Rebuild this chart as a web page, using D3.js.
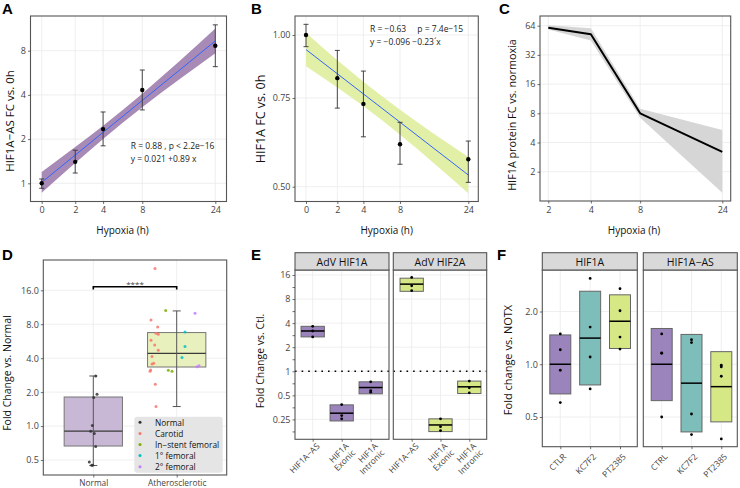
<!DOCTYPE html>
<html>
<head>
<meta charset="utf-8">
<script src="https://cdn.jsdelivr.net/npm/d3@7"></script>
<style>
  body { margin: 0; background: #fff; }
  svg { font-family: "Open Sans", sans-serif; }
</style>
</head>
<body>
<svg id="fig" width="740" height="488"></svg>
<script>
// ---------- data ----------
const hours = [0, 2, 4, 8, 24];

// A: HIF1A-AS fold change vs 0h
const asMean   = [1.0, 1.40, 2.34, 4.32, 8.65];
const asErrLo  = [0.925, 1.175, 1.80, 3.16, 6.23];
const asErrHi  = [1.07, 1.68, 3.06, 5.91, 12.0];
const asBandLo = [0.862, 1.375, 2.004, 3.29, 7.68];
const asBandHi = [1.194, 1.764, 2.467, 4.08, 11.32];
const asFit = [0.021, 0.89];           // intercept, slope

// B: HIF1A fold change vs 0h
const hifMean   = [1.0, 0.821, 0.730, 0.607, 0.567];
const hifErrLo  = [0.948, 0.716, 0.628, 0.554, 0.510];
const hifErrHi  = [1.05, 0.932, 0.848, 0.671, 0.616];
const hifBandLo = [0.867, 0.787, 0.723, 0.634, 0.485];
const hifBandHi = [1.010, 0.891, 0.808, 0.711, 0.573];
const hifFit = [-0.096, -0.23];

// C: HIF1A protein vs normoxia
const protHours = [2, 4, 8, 24];
const protMean = [61, 52.2, 8.0, 3.2];
const protLo   = [58.4, 45.1, 7.2, 1.21];
const protHi   = [64.8, 60.2, 8.9, 5.38];

// D: fold change vs normal
const dGroups = ["Normal", "Atherosclerotic"];
const dTypes = ["Normal", "Carotid", "In\u2212stent femoral", "1\u00b0 femoral", "2\u00b0 femoral"];
const dBox = { // lo whisker, q1, median, q3, hi whisker
  "Normal":          [0.447, 0.665, 0.903, 1.81, 2.78],
  "Atherosclerotic": [1.49, 3.34, 4.42, 6.75, 10.5]
};
const dPointType = [0,0,0,0,0,0,0,0,0,0, 1,1,1,1,1,1,1,1,1,1,1,1,1,1,1, 2,2,2, 3,3,3, 4,4,4];
const dPointValue = [2.78, 1.91, 1.79, 1.01, 0.90, 0.86, 0.66, 0.48, 0.45, 0.45,
  25.0, 8.73, 7.57, 6.66, 6.52, 5.77, 5.24, 4.70, 4.13, 3.60, 3.55, 3.14, 3.06, 2.35, 1.49,
  10.6, 3.12, 3.06,
  6.83, 5.07, 4.05,
  10.0, 3.35, 3.42];
// horizontal jitter of each point, in pixels from the group centre
const dJitter = [2.4, 3.7, 0.4, -1, -2.6, 1, 2.4, -4, -1.6, -0.6,
  -21.7, -25.7, -19, -20.7, -18.4, -25.7, -22, -18.4, -24.7, -23, -24.7, -26, -26.7, -21.4, -20.7,
  -11, -8.4, -4.7,
  8.3, 8.3, 5.3,
  18.3, 20.3, 22.3];

// E: AdV over-expression
const eFacets = ["AdV HIF1A", "AdV HIF2A"];
const eGenes = ["HIF1A\u2212AS", "HIF1A\nExonic", "HIF1A\nIntronic"];
const eBox = [ // [lo, mid, hi] per gene
  [[2.69, 3.19, 3.65], [0.239, 0.299, 0.380], [0.522, 0.626, 0.738]],
  [[10.0, 12.3, 14.6], [0.176, 0.213, 0.254], [0.527, 0.639, 0.754]]
];
const ePoints = [
  [[3.65, 3.19, 2.69], [0.383, 0.279, 0.254], [0.738, 0.574, 0.548]],
  [[14.9, 11.7, 10.2], [0.254, 0.203, 0.181], [0.754, 0.621, 0.537]]
];

// F: inhibitors
const fFacets = ["HIF1A", "HIF1A\u2212AS"];
const fTreat = [["CTLR", "KC7F2", "PT2385"], ["CTRL", "KC7F2", "PT2385"]];
const fBox = [
  [[0.677, 1.0, 1.47], [0.762, 1.41, 2.61], [1.23, 1.76, 2.49]],
  [[0.620, 1.0, 1.60], [0.411, 0.78, 1.48], [0.469, 0.745, 1.18]]
];
const fPoints = [
  [[1.49, 1.21, 0.924, 0.604], [3.09, 1.63, 1.10, 0.723], [2.70, 2.02, 1.43, 1.22]],
  [[1.49, 1.16, 1.155, 0.50], [1.38, 1.33, 0.52, 0.397], [0.987, 0.965, 0.854, 0.375]]
];

// ---------- styles ----------
const GRID = "#ebebeb", BORDER = "#555", TICK = "#333", TXT = "#444";
const PURPLE = "#9a84bb", TEAL = "#7dbdba", YELLOW = "#d6e886";
const typeColor = ["#333333", "#F8766D", "#7CAE00", "#00BFC4", "#C77CFF"];
const TICKSIZE = 9;

const svg = d3.select("#fig");
const plog4 = h => Math.asinh(h / 4) / Math.LN2;   // pseudo-log x, sigma 2
const plog2 = h => Math.asinh(h / 2) / Math.LN2;   // pseudo-log x, sigma 1
const fmt1 = d3.format(".1f");

// ---------- helpers ----------
function letter(t, x, y) {
  svg.append("text").attr("x", x).attr("y", y).text(t)
    .attr("font-family", "Liberation Sans, Arial, sans-serif")
    .attr("font-weight", "bold").attr("font-size", 15).attr("fill", "#000");
}
function gridH(g, y, vals, P) {
  g.append("g").selectAll("line").data(vals).join("line")
    .attr("x1", P.x0).attr("x2", P.x1).attr("y1", d => y(d)).attr("y2", d => y(d))
    .attr("stroke", GRID).attr("stroke-width", 0.8);
}
function gridV(g, xs, P) {
  g.append("g").selectAll("line").data(xs).join("line")
    .attr("x1", d => d).attr("x2", d => d).attr("y1", P.y0).attr("y2", P.y1)
    .attr("stroke", GRID).attr("stroke-width", 0.8);
}
function border(g, P) {
  g.append("rect").attr("x", P.x0).attr("y", P.y0)
    .attr("width", P.x1 - P.x0).attr("height", P.y1 - P.y0)
    .attr("fill", "none").attr("stroke", BORDER).attr("stroke-width", 1.1);
}
function styleAxis(ax, size) {
  ax.select(".domain").remove();
  ax.selectAll(".tick line").attr("stroke", TICK).attr("stroke-width", 0.7);
  ax.selectAll(".tick text").attr("fill", TXT).attr("font-size", size || TICKSIZE)
    .attr("font-family", "Open Sans, sans-serif");
}
function leftAxis(g, y, vals, f, P) {
  const ax = g.append("g").attr("transform", `translate(${P.x0},0)`)
    .call(d3.axisLeft(y).tickValues(vals).tickFormat(f).tickSize(2.5).tickPadding(2));
  styleAxis(ax);
  return ax;
}
function bottomAxis(g, x, vals, f, P, size) {
  const ax = g.append("g").attr("transform", `translate(0,${P.y1})`)
    .call(d3.axisBottom(x).tickValues(vals).tickFormat(f).tickSize(2.5).tickPadding(3));
  styleAxis(ax, size);
  return ax;
}
function yTitle(t, x, y, size) {
  svg.append("text").attr("transform", `translate(${x},${y}) rotate(-90)`)
    .attr("text-anchor", "middle").attr("dominant-baseline", "central")
    .attr("font-size", size).attr("fill", "#111").text(t);
}
function xTitle(t, x, y, size) {
  svg.append("text").attr("x", x).attr("y", y).attr("text-anchor", "middle")
    .attr("font-size", size).attr("fill", "#111").text(t);
}
function errorBars(g, xs, lo, hi, y, w) {
  const e = g.append("g").attr("stroke", "#333").attr("stroke-width", 0.9);
  xs.forEach((xv, i) => {
    e.append("line").attr("x1", xv).attr("x2", xv).attr("y1", y(lo[i])).attr("y2", y(hi[i]));
    e.append("line").attr("x1", xv - w / 2).attr("x2", xv + w / 2).attr("y1", y(lo[i])).attr("y2", y(lo[i]));
    e.append("line").attr("x1", xv - w / 2).attr("x2", xv + w / 2).attr("y1", y(hi[i])).attr("y2", y(hi[i]));
  });
}
function note(g, t, x, y) {
  g.append("text").attr("x", x).attr("y", y).attr("font-size", 8.5).attr("fill", "#222").text(t);
}

// ---------- A ----------
{
  const P = { x0: 30.5, x1: 226.5, y0: 16, y1: 201.5 };
  const x = d3.scaleLinear().domain([plog4(0), plog4(24)]).range([41.7, 215.3]);
  const y = d3.scaleLog().base(2).domain([1, 8]).range([183.3, 50.7]);
  const g = svg.append("g");
  gridV(g, hours.map(h => x(plog4(h))), P);
  gridH(g, y, [1, 2, 4, 8], P);
  const idx = d3.range(hours.length);
  g.append("path").datum(idx)
    .attr("d", d3.area().curve(d3.curveMonotoneX)
      .x(i => x(plog4(hours[i]))).y0(i => y(asBandLo[i])).y1(i => y(asBandHi[i])))
    .attr("fill", "#a78ab5");
  g.append("path").datum([0, 24])
    .attr("d", d3.line().x(h => x(plog4(h))).y(h => y(Math.pow(2, asFit[0] + asFit[1] * plog4(h)))))
    .attr("stroke", "#3366FF").attr("stroke-width", 1).attr("fill", "none");
  errorBars(g, hours.map(h => x(plog4(h))), asErrLo, asErrHi, y, 5);
  g.append("g").selectAll("circle").data(idx).join("circle")
    .attr("cx", i => x(plog4(hours[i]))).attr("cy", i => y(asMean[i])).attr("r", 2.2).attr("fill", "#000");
  note(g, "R = 0.88 , p < 2.2e\u221216", 130.7, 148.7);
  note(g, "y = 0.021 +0.89 x", 130.7, 161.7);
  border(g, P);
  leftAxis(g, y, [1, 2, 4, 8], d3.format("d"), P);
  bottomAxis(g, x, hours.map(plog4), (d, i) => hours[i], P);
  yTitle("HIF1A\u2212AS FC vs. 0h", 9, 121, 11.5);
  xTitle("Hypoxia (h)", 122.5, 233.5, 10);
  letter("A", 2, 14);
}

// ---------- B ----------
{
  const P = { x0: 295, x1: 478.3, y0: 16, y1: 201.5 };
  const x = d3.scaleLinear().domain([plog4(0), plog4(24)]).range([306, 468.3]);
  const y = d3.scaleLog().base(2).domain([0.5, 1]).range([186.7, 35]);
  const g = svg.append("g");
  gridV(g, hours.map(h => x(plog4(h))), P);
  gridH(g, y, [0.5, 0.75, 1], P);
  const idx = d3.range(hours.length);
  g.append("path").datum(idx)
    .attr("d", d3.area().curve(d3.curveMonotoneX)
      .x(i => x(plog4(hours[i]))).y0(i => y(hifBandLo[i])).y1(i => y(hifBandHi[i])))
    .attr("fill", "#e2efa6");
  g.append("path").datum([0, 24])
    .attr("d", d3.line().x(h => x(plog4(h))).y(h => y(Math.pow(2, hifFit[0] + hifFit[1] * plog4(h)))))
    .attr("stroke", "#3366FF").attr("stroke-width", 1).attr("fill", "none");
  errorBars(g, hours.map(h => x(plog4(h))), hifErrLo, hifErrHi, y, 5);
  g.append("g").selectAll("circle").data(idx).join("circle")
    .attr("cx", i => x(plog4(hours[i]))).attr("cy", i => y(hifMean[i])).attr("r", 2.2).attr("fill", "#000");
  note(g, "R = \u22120.63", 370, 32.2);
  note(g, "p = 7.4e\u221215", 417.3, 32.2);
  note(g, "y = \u22120.096 \u22120.23\u00b4x", 370, 44.6);
  border(g, P);
  leftAxis(g, y, [0.5, 0.75, 1], d3.format(".2f"), P);
  bottomAxis(g, x, hours.map(plog4), (d, i) => hours[i], P);
  yTitle("HIF1A FC vs. 0h", 260, 119, 12.5);
  xTitle("Hypoxia (h)", 386.7, 233.5, 10);
  letter("B", 251, 14);
}

// ---------- C ----------
{
  const P = { x0: 540, x1: 730.7, y0: 16, y1: 201 };
  const x = d3.scaleLinear().domain([plog2(2), plog2(24)]).range([548.3, 722.3]);
  const y = d3.scaleLog().base(2).domain([2, 64]).range([171.7, 25.7]);
  const g = svg.append("g");
  gridV(g, protHours.map(h => x(plog2(h))), P);
  gridH(g, y, [2, 4, 8, 16, 32, 64], P);
  const idx = d3.range(protHours.length);
  g.append("path").datum(idx)
    .attr("d", d3.area().x(i => x(plog2(protHours[i]))).y0(i => y(protLo[i])).y1(i => y(protHi[i])))
    .attr("fill", "#d6d6d6");
  g.append("path").datum(idx)
    .attr("d", d3.line().x(i => x(plog2(protHours[i]))).y(i => y(protMean[i])))
    .attr("stroke", "#000").attr("stroke-width", 2).attr("fill", "none").attr("stroke-linejoin", "round");
  border(g, P);
  leftAxis(g, y, [2, 4, 8, 16, 32, 64], d3.format("d"), P);
  bottomAxis(g, x, protHours.map(plog2), (d, i) => protHours[i], P);
  yTitle("HIF1A protein FC vs. normoxia", 511, 115, 10.8);
  xTitle("Hypoxia (h)", 634, 233.5, 10);
  letter("C", 499, 14);
}

// ---------- D ----------
{
  const P = { x0: 43.3, x1: 226.7, y0: 260, y1: 475 };
  const x = d3.scalePoint().domain(dGroups).range([93.3, 176.7]);
  const y = d3.scaleLog().base(2).domain([0.5, 16]).range([460, 290.3]);
  const bw = 58.3;
  const g = svg.append("g");
  gridV(g, dGroups.map(d => x(d)), P);
  gridH(g, y, [0.5, 1, 2, 4, 8, 16], P);
  const fills = { "Normal": "#c8b7d5", "Atherosclerotic": "#e8f1bd" };
  dGroups.forEach(grp => {
    const s = dBox[grp], cx = x(grp);
    g.append("rect").attr("x", cx - bw / 2).attr("width", bw)
      .attr("y", y(s[3])).attr("height", y(s[1]) - y(s[3]))
      .attr("fill", fills[grp]).attr("stroke", "#777").attr("stroke-width", 1);
    g.append("line").attr("x1", cx - bw / 2).attr("x2", cx + bw / 2).attr("y1", y(s[2])).attr("y2", y(s[2]))
      .attr("stroke", "#3a3a3a").attr("stroke-width", 1.3);
    g.append("line").attr("x1", cx).attr("x2", cx).attr("y1", y(s[0])).attr("y2", y(s[4]))
      .attr("stroke", "#555").attr("stroke-width", 1);
    [s[0], s[4]].forEach(v => g.append("line").attr("x1", cx - 4).attr("x2", cx + 4)
      .attr("y1", y(v)).attr("y2", y(v)).attr("stroke", "#555").attr("stroke-width", 1));
  });
  g.append("g").selectAll("circle").data(d3.range(dPointValue.length)).join("circle")
    .attr("cx", i => x(dPointType[i] === 0 ? "Normal" : "Atherosclerotic") + dJitter[i])
    .attr("cy", i => y(dPointValue[i])).attr("r", 1.5)
    .attr("fill", i => typeColor[dPointType[i]]).attr("fill-opacity", 0.85);
  // significance bracket
  g.append("path")
    .attr("d", `M${x("Normal")},289.5V286.7H${x("Atherosclerotic")}V289.5`)
    .attr("fill", "none").attr("stroke", "#000").attr("stroke-width", 1.6);
  g.append("text").attr("x", (x("Normal") + x("Atherosclerotic")) / 2).attr("y", 287)
    .attr("text-anchor", "middle").attr("font-size", 8).attr("fill", "#444").text("****");
  // legend
  const lg = g.append("g");
  lg.append("rect").attr("x", 134.3).attr("y", 416.7).attr("width", 88.4).attr("height", 56)
    .attr("rx", 3).attr("fill", "#e5e5e5");
  dTypes.forEach((t, i) => {
    const cy = 422.3 + i * 11.1;
    lg.append("circle").attr("cx", 140).attr("cy", cy).attr("r", 1.5).attr("fill", typeColor[i]);
    lg.append("text").attr("x", 155).attr("y", cy).attr("dominant-baseline", "central")
      .attr("font-size", 8.3).attr("fill", "#111").text(t);
  });
  border(g, P);
  leftAxis(g, y, [0.5, 1, 2, 4, 8, 16], fmt1, P);
  bottomAxis(g, x, dGroups, d => d, P, 8.3);
  yTitle("Fold Change vs. Normal", 7, 373, 10.5);
  letter("D", 2, 260);
}

// ---------- E ----------
{
  const panels = [
    { x0: 295, x1: 389, y0: 270, y1: 439.3, r: [312.7, 370.7] },
    { x0: 393.3, x1: 486.7, y0: 270, y1: 439.3, r: [411.7, 469.3] }
  ];
  const y = d3.scaleLog().base(2).domain([0.25, 16]).range([419.4, 275]);
  const major = [0.25, 0.5, 1, 2, 4, 8, 16];
  const minor = major.map(v => v / Math.SQRT2).concat([16 * Math.SQRT2]).filter(v => v > 0.15 && v < 18);
  const fill = [PURPLE, YELLOW];
  const bw = 23.3;
  panels.forEach((P, f) => {
    const g = svg.append("g");
    const x = d3.scalePoint().domain(eGenes).range(P.r);
    gridV(g, eGenes.map(d => x(d)), P);
    gridH(g, y, major, P);
    g.append("line").attr("x1", P.x0).attr("x2", P.x1).attr("y1", y(1)).attr("y2", y(1))
      .attr("stroke", "#000").attr("stroke-width", 1.6).attr("stroke-dasharray", "1.6 5");
    eGenes.forEach((gene, k) => {
      const s = eBox[f][k], cx = x(gene);
      g.append("rect").attr("x", cx - bw / 2).attr("width", bw)
        .attr("y", y(s[2])).attr("height", y(s[0]) - y(s[2]))
        .attr("fill", fill[f]).attr("stroke", "#666").attr("stroke-width", 1);
      g.append("line").attr("x1", cx - bw / 2).attr("x2", cx + bw / 2).attr("y1", y(s[1])).attr("y2", y(s[1]))
        .attr("stroke", "#000").attr("stroke-width", 1.5);
      g.append("g").selectAll("circle").data(ePoints[f][k]).join("circle")
        .attr("cx", cx).attr("cy", d => y(d)).attr("r", 1.4).attr("fill", "#000");
    });
    border(g, P);
    // strip
    g.append("rect").attr("x", P.x0).attr("y", 252.7).attr("width", P.x1 - P.x0).attr("height", P.y0 - 252.7)
      .attr("fill", "#d9d9d9").attr("stroke", BORDER).attr("stroke-width", 1.1);
    g.append("text").attr("x", (P.x0 + P.x1) / 2).attr("y", 261.6).attr("dominant-baseline", "central")
      .attr("text-anchor", "middle").attr("font-size", 10.5).attr("fill", "#111").text(eFacets[f]);
    // x tick marks + rotated labels
    const ax = g.append("g").attr("transform", `translate(0,${P.y1})`)
      .call(d3.axisBottom(x).tickSize(2.5).tickFormat(""));
    styleAxis(ax);
    eGenes.forEach(gene => {
      const t = g.append("text").attr("text-anchor", "end").attr("font-size", 8.5).attr("fill", TXT)
        .attr("transform", `translate(${x(gene) + 3},${P.y1 + 3}) rotate(-45)`);
      gene.split("\n").forEach((ln, i) => t.append("tspan").attr("x", 0).attr("dy", i === 0 ? "0.75em" : "1.1em").text(ln));
    });
    if (f === 0) {
      const mi = g.append("g").attr("transform", `translate(${P.x0},0)`)
        .call(d3.axisLeft(y).tickValues(minor).tickFormat("").tickSize(2.5));
      styleAxis(mi);
      leftAxis(g, y, major, d3.format("~g"), P);
    }
  });
  yTitle("Fold Change vs. Ctl.", 259.7, 361, 10.5);
  letter("E", 251, 260);
}

// ---------- F ----------
{
  const panels = [
    { x0: 542.3, x1: 637.3, y0: 270, y1: 446.7, r: [560.3, 620] },
    { x0: 643.3, x1: 737.3, y0: 270, y1: 446.7, r: [661.7, 721.3] }
  ];
  const y = d3.scaleLog().base(2).domain([0.5, 2]).range([417, 311.5]);
  const fill = [PURPLE, TEAL, YELLOW];
  const bw = 21;
  panels.forEach((P, f) => {
    const g = svg.append("g");
    const x = d3.scalePoint().domain(d3.range(3)).range(P.r);
    gridV(g, d3.range(3).map(d => x(d)), P);
    gridH(g, y, [0.5, 1, 2], P);
    d3.range(3).forEach(k => {
      const s = fBox[f][k], cx = x(k);
      g.append("rect").attr("x", cx - bw / 2).attr("width", bw)
        .attr("y", y(s[2])).attr("height", y(s[0]) - y(s[2]))
        .attr("fill", fill[k]).attr("stroke", "#666").attr("stroke-width", 1);
      g.append("line").attr("x1", cx - bw / 2).attr("x2", cx + bw / 2).attr("y1", y(s[1])).attr("y2", y(s[1]))
        .attr("stroke", "#000").attr("stroke-width", 1.5);
      g.append("g").selectAll("circle").data(fPoints[f][k]).join("circle")
        .attr("cx", cx).attr("cy", d => y(d)).attr("r", 1.4).attr("fill", "#000");
    });
    border(g, P);
    g.append("rect").attr("x", P.x0).attr("y", 252.7).attr("width", P.x1 - P.x0).attr("height", P.y0 - 252.7)
      .attr("fill", "#d9d9d9").attr("stroke", BORDER).attr("stroke-width", 1.1);
    g.append("text").attr("x", (P.x0 + P.x1) / 2).attr("y", 261.6).attr("dominant-baseline", "central")
      .attr("text-anchor", "middle").attr("font-size", 10.5).attr("fill", "#111").text(fFacets[f]);
    const ax = g.append("g").attr("transform", `translate(0,${P.y1})`)
      .call(d3.axisBottom(x).tickSize(2.5).tickFormat(""));
    styleAxis(ax);
    d3.range(3).forEach(k => {
      g.append("text").attr("text-anchor", "end").attr("font-size", 8.5).attr("fill", TXT)
        .attr("transform", `translate(${x(k) + 2},${P.y1 + 6}) rotate(-45)`)
        .attr("dy", "0.75em").text(fTreat[f][k]);
    });
    if (f === 0) leftAxis(g, y, [0.5, 1, 2], fmt1, P);
  });
  yTitle("Fold change vs. NOTX", 507.3, 360, 11);
  letter("F", 497, 260);
}
</script>
</body>
</html>
